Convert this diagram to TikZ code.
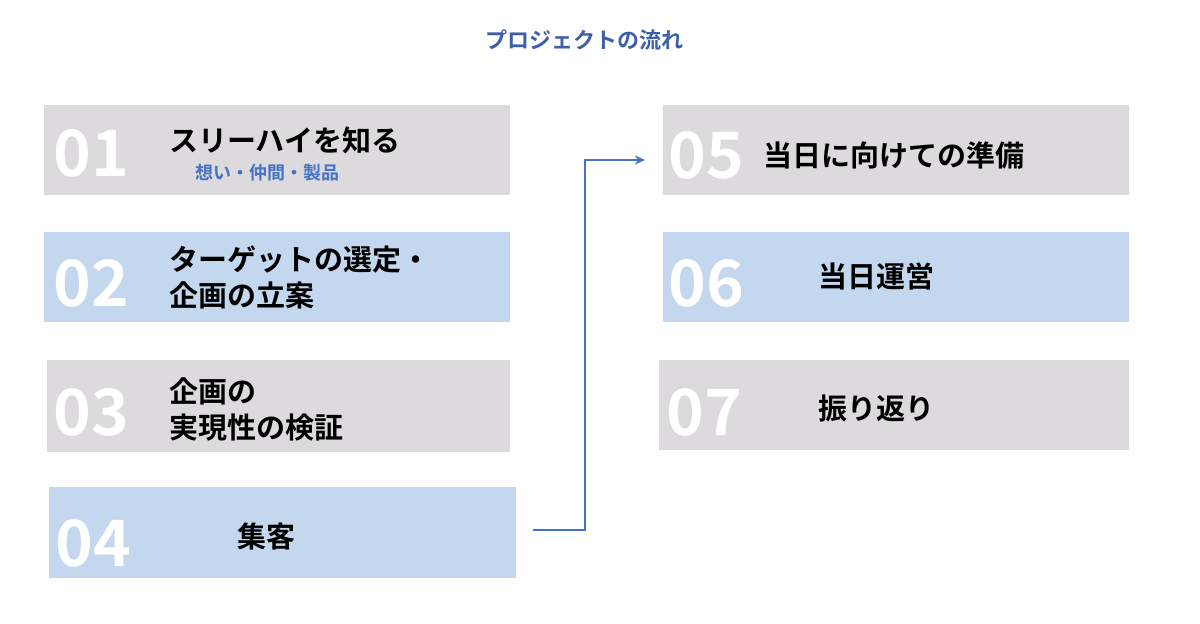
\documentclass[tikz,border=0pt]{standalone}
\usepackage{fontspec}
\setmainfont{Noto Sans CJK JP}[BoldFont={* Bold}]
\usetikzlibrary{arrows.meta}
\definecolor{gbox}{HTML}{DCDADC}
\definecolor{bbox}{HTML}{C3D8EE}
\definecolor{tblue}{HTML}{3F5FA8}
\definecolor{ablue}{HTML}{4472C4}
\tikzset{
 stepbox/.style={inner sep=0pt, anchor=north west},
 num/.style={anchor=west, text=white, font=\fontsize{64}{64}\selectfont\bfseries},
 lab/.style={anchor=west, align=left, font=\fontsize{29}{36}\selectfont\bfseries},
}
\begin{document}
\begin{tikzpicture}[x=1pt,y=-1pt]
\useasboundingbox[fill=white] (0,0) rectangle (1200,624);
\node[font=\fontsize{22}{22}\selectfont\bfseries, text=tblue] (title) at (584,40) {プロジェクトの流れ};
% boxes
\fill[gbox] (44,105) rectangle (510,195) coordinate (b1);
\fill[bbox] (44,232) rectangle (510,322);
\fill[gbox] (47,360) rectangle (510,452);
\fill[bbox] (49,487) rectangle (516,578);
\fill[gbox] (663,105) rectangle (1129,195);
\fill[bbox] (663,232) rectangle (1129,322);
\fill[gbox] (659,360) rectangle (1129,450);
% numbers
\node[num] (n1) at (50,153) {01};
\node[num] (n2) at (50,283) {02};
\node[num] (n3) at (50,412) {03};
\node[num] (n4) at (52,543) {04};
\node[num] (n5) at (665,155) {05};
\node[num] (n6) at (665,283) {06};
\node[num] (n7) at (663,412) {07};
% labels
\node[lab] (l1) at (166,140) {スリーハイを知る};
\node[anchor=west, text=ablue, font=\fontsize{18}{18}\selectfont\bfseries] (s1) at (192,173) {想い・仲間・製品};
\node[lab] (l2) at (166,277) {ターゲットの選定・\\企画の立案};
\node[lab] (l3) at (166,410) {企画の\\実現性の検証};
\node[lab] (l4) at (234,536) {集客};
\node[lab] (l5) at (760,155) {当日に向けての準備};
\node[lab] (l6) at (815,276) {当日運営};
\node[lab] (l7) at (815,408) {振り返り};
% arrow
\coordinate (a0) at (533,530);
\coordinate (a1) at (645,160);
\draw[ablue, line width=2pt, -{Stealth[length=10pt,width=9pt]}] (a0) -- (585,530) -- (585,160) -- (a1);
\end{tikzpicture}
\end{document}
